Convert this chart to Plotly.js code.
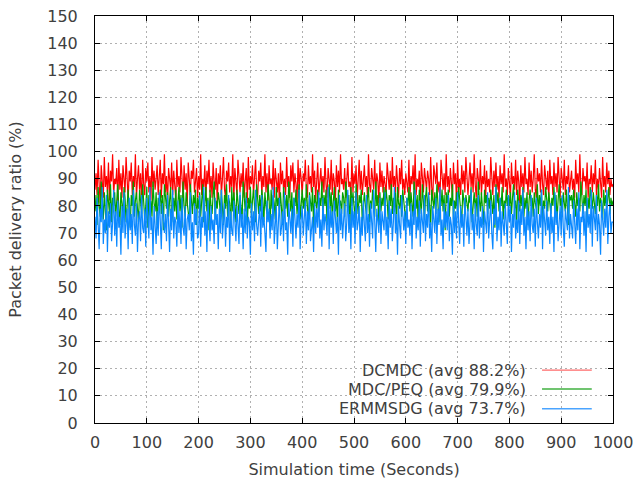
<!DOCTYPE html>
<html>
<head>
<meta charset="utf-8">
<script src="https://cdn.plot.ly/plotly-3.0.1.min.js"></script>
<style>html,body{margin:0;padding:0;background:#fff;}#chart{width:634px;height:480px;}</style>
</head>
<body>
<div id="chart"></div>
<script>
// Sampling step of the simulation trace (seconds)
const timeStep = 2;

const seriesNames = ["DCMDC (avg 88.2%)", "MDC/PEQ (avg 79.9%)", "ERMMSDG (avg 73.7%)"];

const dcmdc = [
86,92,84,97,88,81,95,90,83,98,87,91,85,96,82,93,89,99,84,90,
88,94,81,97,86,92,83,95,90,85,98,87,82,93,89,96,84,91,87,99,
83,90,95,86,92,80,97,88,84,94,89,96,85,91,82,98,87,93,86,90,
95,84,89,97,83,92,88,99,85,91,81,94,90,86,96,84,93,88,82,97,
87,91,85,98,89,83,95,86,92,80,96,88,84,93,90,97,85,89,94,83,
91,86,99,84,90,87,95,82,93,88,97,85,91,83,96,89,86,94,81,92,
88,95,84,90,98,86,83,93,89,96,85,91,87,99,82,94,88,84,97,90,
85,92,87,96,83,89,94,81,98,86,91,88,95,84,90,97,86,83,93,89,
96,84,91,87,99,85,92,82,95,88,90,86,97,83,94,89,85,92,80,96,
88,93,86,90,84,98,87,91,83,95,89,96,85,92,88,81,97,86,94,90,
84,92,89,97,86,83,95,88,91,85,99,87,93,82,90,96,84,89,94,86,
91,85,98,88,83,94,90,86,97,84,92,89,81,95,87,93,85,99,88,90,
86,94,83,91,96,87,89,84,98,85,92,88,95,82,90,97,86,93,84,89,
95,87,91,83,99,88,85,94,90,86,97,84,92,89,81,96,87,93,85,91,
88,84,96,90,86,93,82,98,87,91,85,95,89,83,94,88,97,86,90,84,
92,89,85,97,83,91,88,95,86,99,84,90,87,93,81,96,89,85,94,88,
86,93,90,84,98,87,82,95,91,88,96,85,89,83,97,90,86,92,84,99,
87,91,85,94,89,83,96,88,92,80,97,86,90,84,95,88,93,85,98,89,
84,90,96,87,92,85,99,88,83,94,89,86,97,84,91,88,95,82,93,87,
90,85,98,89,84,93,87,96,86,91,83,95,88,92,85,99,87,90,84,94,
89,83,96,88,91,86,97,84,93,89,81,95,87,92,85,98,88,90,84,96,
87,93,85,90,99,86,83,94,89,92,85,97,88,84,95,90,86,93,82,97,
88,91,84,96,87,92,85,98,89,83,94,90,86,97,84,91,88,95,85,89,
93,86,90,83,97,88,92,85,99,87,84,94,89,91,86,96,83,90,88,95,
85,92,88,97,84,90,86,94,89,83,98,87,91,85,96,88,93,84,90,87,
88];

const mdcpeq = [
78,84,73,87,80,76,89,82,75,85,79,71,86,81,77,88,74,83,80,85,
76,82,88,79,73,85,80,77,87,83,74,81,86,78,72,84,80,89,76,82,
85,79,74,86,81,77,88,83,75,80,87,72,84,79,82,76,89,81,78,85,
73,83,80,86,77,84,71,88,81,79,85,76,82,87,74,80,83,78,86,75,
81,87,78,84,72,89,80,76,85,82,79,74,88,81,77,84,80,86,73,83,
79,85,76,82,88,74,81,87,78,83,71,86,80,77,84,89,75,82,79,85,
82,77,86,80,73,84,79,88,76,83,81,72,87,78,85,80,74,86,82,77,
84,80,75,89,81,78,85,73,83,79,87,76,82,86,80,74,88,81,77,84,
78,86,82,74,85,80,77,88,83,71,86,79,84,81,75,87,80,83,78,85,
80,73,87,82,79,84,76,89,81,78,85,74,83,80,86,77,82,88,75,81,
86,79,83,77,88,80,74,85,82,78,87,72,84,81,79,86,76,83,80,89,
77,84,80,86,73,82,88,79,85,76,81,87,78,83,74,86,80,82,77,85,
83,76,89,81,78,84,72,87,80,85,79,75,88,82,77,84,81,86,74,80,
85,80,77,83,87,74,82,79,86,81,76,89,80,84,73,85,78,83,80,87,
79,86,82,75,84,80,88,77,83,78,85,72,87,81,79,84,76,86,82,80,
74,83,80,87,78,85,81,76,89,82,79,84,73,86,80,77,88,81,75,83,
87,78,84,80,73,86,82,79,85,77,88,81,74,83,80,86,78,84,71,85,
81,86,76,83,80,88,75,82,79,85,77,87,83,80,74,86,81,78,84,80,
78,84,81,87,74,80,85,79,83,76,89,82,78,85,80,73,86,81,84,77,
83,79,86,80,77,84,72,88,81,85,78,83,80,87,75,82,79,86,80,84,
80,85,77,83,88,79,82,74,86,81,78,84,80,87,76,83,79,85,73,82,
86,80,83,76,85,81,79,88,77,84,80,86,74,82,79,87,81,78,85,80,
77,83,80,87,79,84,75,82,88,80,83,76,85,81,78,86,80,73,84,82,
84,79,86,81,76,85,80,83,78,89,81,77,84,80,86,74,83,79,87,81,
79,85,82,77,84,80,88,78,83,81,75,86,80,84,79,82,87,77,83,80,
82];

const ermmsdg = [
76,68,83,71,64,79,74,87,66,75,70,84,63,78,72,81,67,74,86,69,
78,65,82,72,76,62,80,70,85,68,74,79,64,83,71,77,66,86,73,69,
81,63,75,78,67,84,72,70,79,65,83,74,68,87,71,76,62,80,73,66,
78,69,85,72,64,81,75,70,77,67,84,73,63,79,71,86,68,76,74,65,
82,70,78,66,83,72,69,80,64,75,77,71,85,67,74,62,81,73,79,68,
70,84,65,76,72,87,69,78,63,82,74,67,80,71,75,66,83,73,77,64,
79,70,86,68,74,81,65,76,72,84,63,78,71,69,82,75,67,80,73,66,
85,72,77,64,79,70,83,68,76,74,62,81,71,78,67,86,73,69,75,80,
65,84,72,76,70,63,82,74,79,68,77,71,87,66,73,80,64,75,83,69,
72,78,67,85,71,74,62,81,76,70,79,65,83,73,68,77,72,86,64,75,
80,69,74,82,66,78,71,84,67,73,76,63,81,70,79,72,85,68,75,65,
83,71,77,74,69,87,64,80,72,78,66,82,73,70,76,62,84,71,79,68,
75,81,67,74,86,70,77,64,83,72,78,66,85,71,74,80,63,76,69,82,
73,67,84,70,77,65,81,74,68,86,72,63,79,75,70,83,66,78,73,71,
85,69,76,64,82,72,79,67,74,87,70,77,62,80,73,68,84,75,71,78,
66,83,72,75,69,81,64,78,73,86,68,76,71,82,65,79,74,70,84,67,
77,72,85,68,74,63,80,76,70,83,66,79,73,87,69,75,64,81,72,78,
71,84,67,76,73,62,82,70,78,68,85,74,66,80,72,77,65,83,75,69,
79,66,74,86,71,77,64,81,73,69,84,68,76,72,80,63,78,74,70,85,
68,75,82,70,64,79,73,87,67,76,71,83,65,78,74,69,81,72,66,84,
74,80,63,77,72,85,68,75,70,82,66,79,73,86,69,76,64,81,71,78,
67,84,73,70,79,65,83,74,68,77,72,86,64,80,75,69,82,71,76,66,
81,70,76,63,85,73,78,67,74,80,69,84,72,65,79,75,71,87,68,77,
73,68,82,75,66,79,71,85,64,76,74,81,69,78,63,83,72,77,70,86,
65,80,74,71,84,67,77,73,62,82,75,69,79,72,86,66,76,81,70,74,
74];

const xTicks = [0,100,200,300,400,500,600,700,800,900,1000];
const yTicks = [0,10,20,30,40,50,60,70,80,90,100,110,120,130,140,150];

const times = dcmdc.map((_, i) => i * timeStep);
const colors = ["#ff0000", "#00a000", "#0a88ff"];
const legendColors = ["#ff6a6a", "#40b040", "#4aa4ff"];
const allSeries = [dcmdc, mdcpeq, ermmsdg];

const traces = allSeries.map((vals, k) => ({
  x: times, y: vals, type: "scatter", mode: "lines",
  name: seriesNames[k], line: {color: colors[k], width: 1.2}, showlegend: false
}));

const font = {family: "DejaVu Sans, sans-serif", size: 16, color: "#404040"};

const axisCommon = {
  showline: true, linecolor: "#000", linewidth: 1, mirror: "ticks",
  ticks: "inside", ticklen: 5, tickcolor: "#000", tickwidth: 1,
  showgrid: true, gridcolor: "#b0b0b0", griddash: "2px,3px", gridwidth: 1,
  zeroline: false, tickfont: font, ticklabeloverflow: "allow"
};

const legY = [0.130, 0.0835, 0.035];
const annotations = seriesNames.map((n, k) => ({
  xref: "paper", yref: "paper", x: 0.836, y: legY[k], xanchor: "right", yanchor: "middle",
  text: n, showarrow: false, font: font
}));
const shapes = [{
  type: "rect", xref: "paper", yref: "paper", x0: 0.42, x1: 0.98, y0: 0.004, y1: 0.16,
  fillcolor: "#fff", line: {width: 0}, layer: "between"
}].concat(seriesNames.map((n, k) => ({
  type: "line", xref: "paper", yref: "paper", x0: 0.863, x1: 0.959, y0: legY[k], y1: legY[k],
  line: {color: legendColors[k], width: 1.3}
})));

const layout = {
  width: 634, height: 480,
  margin: {l: 95, r: 21, t: 16, b: 57},
  paper_bgcolor: "#fff", plot_bgcolor: "#fff",
  font: font,
  showlegend: false,
  xaxis: Object.assign({}, axisCommon, {
    range: [0, 1000], tickvals: xTicks, ticktext: xTicks.map(String), ticklabelstandoff: 5,
    title: {text: "Simulation time (Seconds)", font: font, standoff: 12}
  }),
  yaxis: Object.assign({}, axisCommon, {
    range: [0, 150], tickvals: yTicks, ticktext: yTicks.map(String), ticklabelstandoff: 13,
    title: {text: "Packet delivery ratio (%)", font: font, standoff: 21}
  }),
  annotations: annotations,
  shapes: shapes
};

Plotly.newPlot("chart", traces, layout, {staticPlot: true, displayModeBar: false});
</script>
</body>
</html>
